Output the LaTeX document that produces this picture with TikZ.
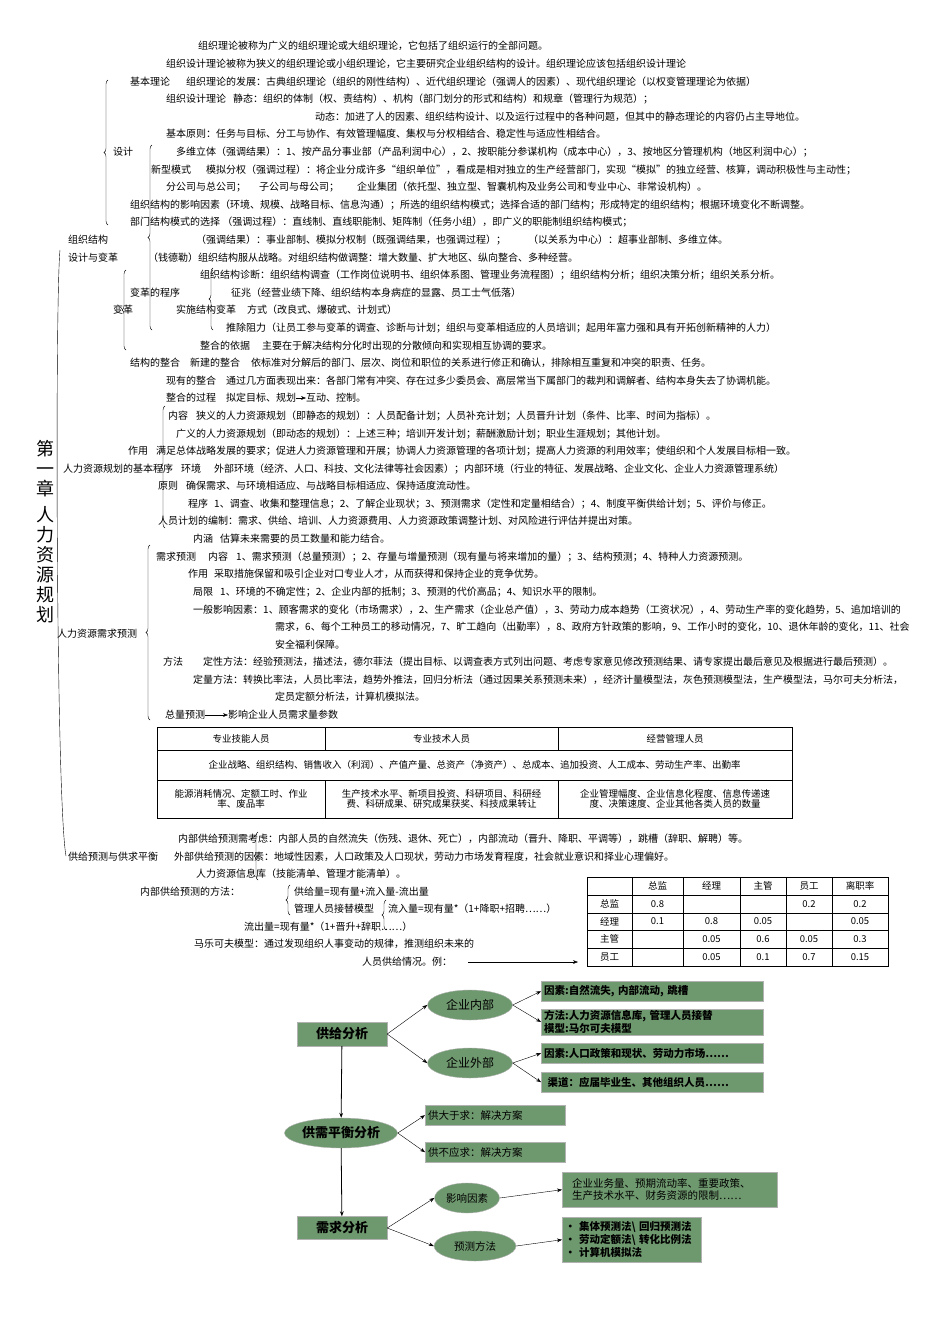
\documentclass[tikz,border=0pt]{standalone}
\usepackage{fontspec}
\setmainfont{Noto Sans CJK SC}
\usepackage{tikz}
\usetikzlibrary{positioning, shapes.geometric, arrows.meta, decorations.pathreplacing}
\definecolor{boxgreen}{RGB}{110,152,110}
\tikzset{
	txt/.style={anchor=west, inner sep=0pt, font=\fontsize{10}{10}\selectfont},
	brc/.style={decorate, decoration={brace, amplitude=4pt, mirror}, thin},
	gbox/.style={draw=gray!60, fill=boxgreen, rectangle, anchor=north west, align=left, inner sep=3pt, font=\fontsize{10.5}{11}\selectfont\bfseries},
	gell/.style={draw=gray!60, fill=boxgreen, ellipse, inner sep=1pt, font=\fontsize{12}{13}\selectfont},
	link/.style={-{Stealth[length=5pt]}, thin},
	cell/.style={font=\fontsize{9.5}{10}\selectfont, align=center}
}
\begin{document}
\begin{tikzpicture}[x=1pt, y=-1pt]
	\useasboundingbox (0,0) rectangle (950,1344);
	% Title
	\node[font=\fontsize{18}{20}\selectfont, align=center] (title) at (45,532) {第\\一\\章\\[6pt]人\\力\\资\\源\\规\\划};
	% Organisation structure
	\node[txt] (t1) at (198,46) {组织理论被称为广义的组织理论或大组织理论，它包括了组织运行的全部问题。};
	\node[txt] (t2) at (166,64) {组织设计理论被称为狭义的组织理论或小组织理论，它主要研究企业组织结构的设计。组织理论应该包括组织设计理论};
	\node[txt] (jbll) at (130,82) {基本理论};
	\node[txt] (t3) at (186,82) {组织理论的发展：古典组织理论（组织的刚性结构）、近代组织理论（强调人的因素）、现代组织理论（以权变管理理论为依据）};
	\node[txt] (zzsj) at (166,99) {组织设计理论};
	\node[txt] (t4) at (233,99) {静态：组织的体制（权、责结构）、机构（部门划分的形式和结构）和规章（管理行为规范）；};
	\node[txt] (t5) at (315,117) {动态：加进了人的因素、组织结构设计、以及运行过程中的各种问题，但其中的静态理论的内容仍占主导地位。};
	\node[txt] (t6) at (166,134) {基本原则：任务与目标、分工与协作、有效管理幅度、集权与分权相结合、稳定性与适应性相结合。};
	\node[txt] (sj) at (113,152) {设计};
	\node[txt] (t7) at (176,152) {多维立体（强调结果）：1、按产品分事业部（产品利润中心），2、按职能分参谋机构（成本中心），3、按地区分管理机构（地区利润中心）；};
	\node[txt] (xxms) at (151,170) {新型模式};
	\node[txt] (t8) at (206,170) {模拟分权（强调过程）：将企业分成许多“组织单位”，看成是相对独立的生产经营部门，实现“模拟”的独立经营、核算，调动积极性与主动性；};
	\node[txt] (t9a) at (166,187) {分公司与总公司；};
	\node[txt] (t9b) at (259,187) {子公司与母公司；};
	\node[txt] (t9c) at (357,187) {企业集团（依托型、独立型、智囊机构及业务公司和专业中心、非常设机构）。};
	\node[txt] (t10) at (130,205) {组织结构的影响因素（环境、规模、战略目标、信息沟通）；所选的组织结构模式；选择合适的部门结构；形成特定的组织结构；根据环境变化不断调整。};
	\node[txt] (t11) at (130,222) {部门结构模式的选择 （强调过程）：直线制、直线职能制、矩阵制（任务小组），即广义的职能制组织结构模式；};
	\node[txt] (zzjg) at (68,240) {组织结构};
	\node[txt] (t12a) at (196,240) {（强调结果）：事业部制、模拟分权制（既强调结果，也强调过程）；};
	\node[txt] (t12b) at (528,240) {（以关系为中心）：超事业部制、多维立体。};
	\node[txt] (sjbg) at (68,258) {设计与变革};
	\node[txt] (t13) at (148,258) {（钱德勒）组织结构服从战略。对组织结构做调整：增大数量、扩大地区、纵向整合、多种经营。};
	\node[txt] (t14) at (200,275) {组织结构诊断：组织结构调查（工作岗位说明书、组织体系图、管理业务流程图）；组织结构分析；组织决策分析；组织关系分析。};
	\node[txt] (bgcx) at (130,293) {变革的程序};
	\node[txt] (t15) at (231,293) {征兆（经营业绩下降、组织结构本身病症的显露、员工士气低落）};
	\node[txt] (bg) at (113,310) {变革};
	\node[txt] (ssbg) at (176,310) {实施结构变革};
	\node[txt] (t16) at (247,310) {方式（改良式、爆破式、计划式）};
	\node[txt] (t17) at (226,328) {推除阻力（让员工参与变革的调查、诊断与计划；组织与变革相适应的人员培训；起用年富力强和具有开拓创新精神的人力）};
	\node[txt] (zhyj) at (200,346) {整合的依据};
	\node[txt] (t18) at (262,346) {主要在于解决结构分化时出现的分散倾向和实现相互协调的要求。};
	\node[txt] (jgzh) at (130,363) {结构的整合};
	\node[txt] (xjzh) at (190,363) {新建的整合};
	\node[txt] (t19) at (251,363) {依标准对分解后的部门、层次、岗位和职位的关系进行修正和确认，排除相互重复和冲突的职责、任务。};
	\node[txt] (xyzh) at (166,381) {现有的整合};
	\node[txt] (t20) at (226,381) {通过几方面表现出来：各部门常有冲突、存在过多少委员会、高层常当下属部门的裁判和调解者、结构本身失去了协调机能。};
	\node[txt] (zhgc) at (166,398) {整合的过程};
	\node[txt] (t21) at (226,398) {拟定目标、规划};
	\node[txt] (t21b) at (306,398) {互动、控制。};
	\draw[link] (t21) -- (t21b);
	% HR planning
	\node[txt] (nr) at (168,416) {内容};
	\node[txt] (t22) at (196,416) {狭义的人力资源规划（即静态的规划）：人员配备计划；人员补充计划；人员晋升计划（条件、比率、时间为指标）。};
	\node[txt] (t23) at (176,434) {广义的人力资源规划（即动态的规划）：上述三种；培训开发计划；薪酬激励计划；职业生涯规划；其他计划。};
	\node[txt] (zy) at (128,451) {作用};
	\node[txt] (t24) at (156,451) {满足总体战略发展的要求；促进人力资源管理和开展；协调人力资源管理的各项计划；提高人力资源的利用效率；使组织和个人发展目标相一致。};
	\node[txt] (jbcx) at (63,469) {人力资源规划的基本程序};
	\node[txt] (hj) at (181,469) {环境};
	\node[txt] (t25) at (214,469) {外部环境（经济、人口、科技、文化法律等社会因素）；内部环境（行业的特征、发展战略、企业文化、企业人力资源管理系统）};
	\node[txt] (yz) at (158,486) {原则};
	\node[txt] (t26) at (186,486) {确保需求、与环境相适应、与战略目标相适应、保持适度流动性。};
	\node[txt] (cx) at (188,504) {程序};
	\node[txt] (t27) at (214,504) {1、调查、收集和整理信息；2、了解企业现状；3、预测需求（定性和定量相结合）；4、制度平衡供给计划；5、评价与修正。};
	\node[txt] (t28) at (158,521) {人员计划的编制：需求、供给、培训、人力资源费用、人力资源政策调整计划、对风险进行评估并提出对策。};
	% Demand forecast
	\node[txt] (nh) at (193,539) {内涵};
	\node[txt] (t29) at (220,539) {估算未来需要的员工数量和能力结合。};
	\node[txt] (xqyc) at (156,557) {需求预测};
	\node[txt] (nr2) at (208,557) {内容};
	\node[txt] (t30) at (236,557) {1、需求预测（总量预测）；2、存量与增量预测（现有量与将来增加的量）；3、结构预测；4、特种人力资源预测。};
	\node[txt] (zy2) at (188,574) {作用};
	\node[txt] (t31) at (214,574) {采取措施保留和吸引企业对口专业人才，从而获得和保持企业的竞争优势。};
	\node[txt] (jx) at (193,592) {局限};
	\node[txt] (t32) at (220,592) {1、环境的不确定性；2、企业内部的抵制；3、预测的代价高品；4、知识水平的限制。};
	\node[txt] (t33) at (193,610) {一般影响因素：1、顾客需求的变化（市场需求），2、生产需求（企业总产值），3、劳动力成本趋势（工资状况），4、劳动生产率的变化趋势，5、追加培训的};
	\node[txt] (t34) at (275,627) {需求，6、每个工种员工的移动情况，7、旷工趋向（出勤率），8、政府方针政策的影响，9、工作小时的变化，10、退休年龄的变化，11、社会};
	\node[txt] (t35) at (275,645) {安全福利保障。};
	\node[txt] (xqyc2) at (57,634) {人力资源需求预测};
	\node[txt] (ff) at (163,662) {方法};
	\node[txt] (t36) at (203,662) {定性方法：经验预测法，描述法，德尔菲法（提出目标、以调查表方式列出问题、考虑专家意见修改预测结果、请专家提出最后意见及根据进行最后预测）。};
	\node[txt] (t37) at (193,680) {定量方法：转换比率法，人员比率法，趋势外推法，回归分析法（通过因果关系预测未来），经济计量模型法，灰色预测模型法，生产模型法，马尔可夫分析法，};
	\node[txt] (t38) at (275,697) {定员定额分析法，计算机模拟法。};
	\node[txt] (zlyc) at (165,715) {总量预测};
	\node[txt] (t39) at (228,715) {影响企业人员需求量参数};
	\draw[link] (zlyc) -- (t39);
	% Parameter table
	\draw[thin] (157,727) rectangle (792,818);
	\draw[thin] (157,750) -- (792,750) (157,780) -- (792,780);
	\draw[thin] (325,727) -- (325,750) (558,727) -- (558,750) (325,780) -- (325,818) (558,780) -- (558,818);
	\node[cell] (c1) at (241,738.5) {专业技能人员};
	\node[cell] (c2) at (441.5,738.5) {专业技术人员};
	\node[cell] (c3) at (675,738.5) {经营管理人员};
	\node[cell] (c4) at (474.5,765) {企业战略、组织结构、销售收入（利润）、产值产量、总资产（净资产）、总成本、追加投资、人工成本、劳动生产率、出勤率};
	\node[cell] (c5) at (241,799) {能源消耗情况、定额工时、作业\\率、废品率};
	\node[cell] (c6) at (441.5,799) {生产技术水平、新项目投资、科研项目、科研经\\费、科研成果、研究成果获奖、科技成果转让};
	\node[cell] (c7) at (675,799) {企业管理幅度、企业信息化程度、信息传递速\\度、决策速度、企业其他各类人员的数量};
	% Supply forecast
	\node[txt] (t40) at (178,839) {内部供给预测需考虑：内部人员的自然流失（伤残、退休、死亡），内部流动（晋升、降职、平调等），跳槽（辞职、解聘）等。};
	\node[txt] (gjyc) at (68,857) {供给预测与供求平衡};
	\node[txt] (t41) at (174,857) {外部供给预测的因素：地域性因素，人口政策及人口现状，劳动力市场发育程度，社会就业意识和择业心理偏好。};
	\node[txt] (t42) at (196,874) {人力资源信息库（技能清单、管理才能清单）。};
	\node[txt] (nbff) at (140,892) {内部供给预测的方法：};
	\node[txt] (t43) at (294,892) {供给量=现有量+流入量-流出量};
	\node[txt] (jtmx) at (294,909) {管理人员接替模型};
	\node[txt] (t44) at (388,909) {流入量=现有量*（1+降职+招聘……）};
	\node[txt] (t45) at (244,927) {流出量=现有量*（1+晋升+辞职……）};
	\node[txt] (t46) at (194,944) {马乐可夫模型：通过发现组织人事变动的规律，推测组织未来的};
	\node[txt] (t47) at (362,962) {人员供给情况。例：};
	% Markov matrix
	\draw[thin] (587,877) rectangle (888,966);
	\foreach \yy in {895,913,930,948} \draw[thin] (587,\yy) -- (888,\yy);
	\foreach \xx in {632,683,740,786,832} \draw[thin] (\xx,877) -- (\xx,966);
	\coordinate (mx) at (578,962);
	\draw[link] (t47.east) ++(16,0) -- (mx);
	\foreach \lab/\xx in {总监/657.5, 经理/711.5, 主管/763, 员工/809, 离职率/860}
		\node[cell] at (\xx,886) {\lab};
	\foreach \lab/\yy in {总监/904, 经理/921.5, 主管/939, 员工/957}
		\node[cell] at (609.5,\yy) {\lab};
	\foreach \v/\xx/\yy in {0.8/657.5/904, 0.2/809/904, 0.2/860/904,
		0.1/657.5/921.5, 0.8/711.5/921.5, 0.05/763/921.5, 0.05/860/921.5,
		0.05/711.5/939, 0.6/763/939, 0.05/809/939, 0.3/860/939,
		0.05/711.5/957, 0.1/763/957, 0.7/809/957, 0.15/860/957}
		\node[cell] at (\xx,\yy) {\v};
	% Braces
	\draw[thin] (60,250) .. controls (55,300) and (56,800) .. (66,856);
	\draw[brc] (152,145) -- (152,330);
	\draw[brc] (108,80) -- (108,225);
	\draw[brc] (126,270) -- (126,350);
	\draw[brc] (213,268) -- (213,330);
	\draw[brc] (165,406) -- (165,528);
	\draw[brc] (150,545) -- (150,720);
	\draw[brc] (258,832) -- (258,880);
	\draw[brc] (290,885) -- (290,915);
	\draw[brc] (386,900) -- (386,930);
	% Bottom flow chart
	\node[gbox, minimum width=90pt, minimum height=24pt, anchor=center, align=center, font=\fontsize{13}{14}\selectfont\bfseries] (gjfx) at (342,1034) {供给分析};
	\node[gell, minimum width=85pt, minimum height=30pt] (qynb) at (470,1005) {企业内部};
	\node[gell, minimum width=85pt, minimum height=30pt] (qywb) at (470,1063) {企业外部};
	\node[gbox, text width=216pt, minimum height=20pt] (b1) at (541,981) {因素:自然流失, 内部流动, 跳槽};
	\node[gbox, text width=216pt, minimum height=25pt, inner ysep=1.5pt, font=\fontsize{10.5}{11}\selectfont\bfseries] (b2) at (541,1009) {方法:人力资源信息库, 管理人员接替\\模型:马尔可夫模型};
	\node[gbox, text width=216pt, minimum height=20pt] (b3) at (541,1043) {因素:人口政策和现状、劳动力市场……};
	\node[gbox, text width=216pt, minimum height=20pt] (b4) at (541,1072) {\ 渠道：应届毕业生、其他组织人员……};
	\node[gell, minimum width=90pt, minimum height=30pt, font=\fontsize{13}{14}\selectfont\bfseries] (gxph) at (341,1133) {供需平衡分析};
	\node[gbox, text width=134pt, minimum height=20pt, font=\fontsize{10.5}{11}\selectfont] (b5) at (425,1105) {供大于求：解决方案};
	\node[gbox, text width=134pt, minimum height=20pt, font=\fontsize{10.5}{11}\selectfont] (b6) at (425,1142) {供不应求：解决方案};
	\node[gbox, minimum width=90pt, minimum height=23pt, anchor=center, align=center, font=\fontsize{13}{14}\selectfont\bfseries] (xqfx) at (342,1228) {需求分析};
	\node[gell, minimum width=65pt, minimum height=30pt, font=\fontsize{10.5}{11}\selectfont] (yxys) at (467,1198) {影响因素};
	\node[gell, minimum width=82pt, minimum height=30pt, font=\fontsize{10.5}{11}\selectfont] (ycff) at (475,1246) {预测方法};
	\node[gbox, text width=195pt, minimum height=35pt, font=\fontsize{10.5}{11.5}\selectfont, inner xsep=10pt] (b7) at (562,1172) {企业业务量、预期流动率、重要政策、\\生产技术水平、财务资源的限制……};
	\node[gbox, text width=133pt, minimum height=45pt, inner ysep=1.5pt, font=\fontsize{10.5}{13}\selectfont\bfseries] (b8) at (562,1217) {• 集体预测法\textbackslash\ 回归预测法\\• 劳动定额法\textbackslash\ 转化比例法\\• 计算机模拟法};
	\draw[link] (gjfx.east) -- (qynb.west);
	\draw[link] (gjfx.east) -- (qywb.west);
	\draw[link] (qynb.east) -- (b1.west);
	\draw[link] (qynb.east) -- (b2.west);
	\draw[link] (qywb.east) -- (b3.west);
	\draw[link] (qywb.east) -- (b4.west);
	\draw[link, thick] (gjfx) -- (gxph);
	\draw[link, thick] (gxph) -- (xqfx);
	\draw[link] (gxph.east) -- (b5.west);
	\draw[link] (gxph.east) -- (b6.west);
	\draw[link] (xqfx.east) -- (yxys.west);
	\draw[link] (xqfx.east) -- (ycff.west);
	\draw[link] (yxys.east) -- (b7.west);
	\draw[link] (ycff.east) -- (b8.west);
\end{tikzpicture}
\end{document}
